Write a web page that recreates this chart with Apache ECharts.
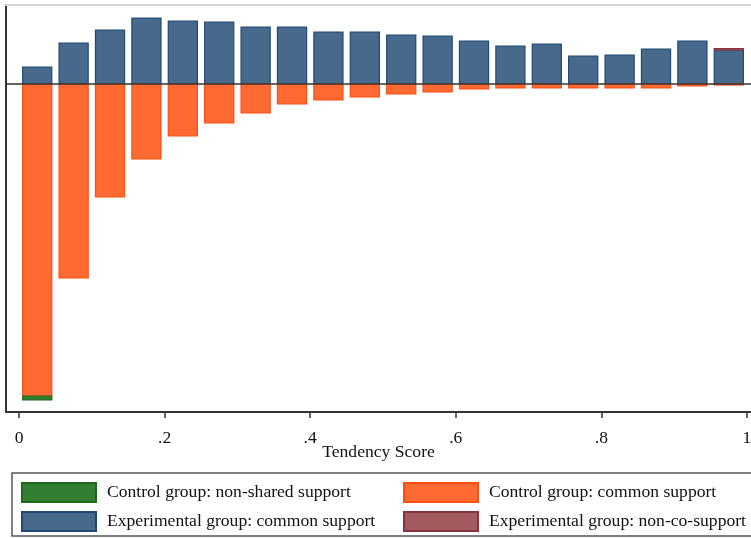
<!DOCTYPE html>
<html>
<head>
<meta charset="utf-8">
<script src="https://cdn.jsdelivr.net/npm/echarts@6/dist/echarts.min.js"></script>
<style>
  html, body { margin: 0; padding: 0; background: #fff; }
  #chart { width: 751px; height: 538px; }
</style>
</head>
<body>
<div id="chart"></div>
<script>
// Propensity ("tendency") score histogram: 20 bins of width 0.05.
const binWidth = 0.05;
const binStarts = [0, 0.05, 0.10, 0.15, 0.20, 0.25, 0.30, 0.35, 0.40, 0.45,
                   0.50, 0.55, 0.60, 0.65, 0.70, 0.75, 0.80, 0.85, 0.90, 0.95];

// Experimental group (drawn upward)
const experimentalCommon = [17, 41, 54, 66, 63, 62, 57, 57, 52, 52,
                            49, 48, 43, 38, 40, 28, 29, 35, 43, 34];
const experimentalOffSupport = [0, 0, 0, 0, 0, 0, 0, 0, 0, 0,
                                0, 0, 0, 0, 0, 0, 0, 0, 0, 1.5];

// Control group (drawn downward)
const controlCommon = [312, 194, 113, 75, 52, 39, 29, 20, 16, 13,
                       10, 8, 5, 4, 4, 4, 4, 4, 2, 1];
const controlOffSupport = [4, 0, 0, 0, 0, 0, 0, 0, 0, 0,
                           0, 0, 0, 0, 0, 0, 0, 0, 0, 0];

const tickValues = [0, 0.2, 0.4, 0.6, 0.8, 1];
const tickLabels = ['0', '.2', '.4', '.6', '.8', '1'];

const legendNames = {
  ctrlOff: 'Control group: non-shared support',
  ctrlCommon: 'Control group: common support',
  expCommon: 'Experimental group: common support',
  expOff: 'Experimental group: non-co-support'
};

const barFill = 0.8; // fraction of the bin covered by a bar

// rows of [binCenter, lowValue, highValue]
function stackRows(base, vals, sign) {
  return binStarts.map((s, i) => {
    const b = base ? base[i] : 0;
    return [s + binWidth / 2, sign * b, sign * (b + vals[i])];
  }).filter(r => r[1] !== r[2]);
}

function renderBar(params, api) {
  const c = api.value(0);
  const half = binWidth * barFill / 2;
  const p0 = api.coord([c - half, api.value(1)]);
  const p1 = api.coord([c + half, api.value(2)]);
  const x = Math.min(p0[0], p1[0]);
  const y = Math.min(p0[1], p1[1]);
  const w = Math.abs(p1[0] - p0[0]);
  const h = Math.max(Math.abs(p1[1] - p0[1]), 1);
  return {
    type: 'rect',
    shape: { x: x, y: y, width: w, height: h },
    style: api.style()
  };
}

function barSeries(name, data, fill, stroke, z) {
  return {
    type: 'custom',
    name: name,
    renderItem: renderBar,
    data: data,
    z: z,
    encode: { x: 0, y: [1, 2] },
    itemStyle: { color: fill, borderColor: stroke, borderWidth: 1.2 },
    animation: false
  };
}

const serif = 'Liberation Serif, Times New Roman, serif';
const fontSize = 17.6;
const legendText = { fontFamily: serif, fontSize: fontSize, color: '#111', padding: [0, 0, 0, 6] };

const chart = echarts.init(document.getElementById('chart'), null, { renderer: 'canvas' });

chart.setOption({
  backgroundColor: '#fff',
  animation: false,
  grid: {
    left: 6, right: 0, top: 5, bottom: 126,
    containLabel: false,
    outerBoundsMode: 'none'
  },
  xAxis: [
    {
      type: 'value',
      position: 'bottom',
      min: -0.0179,
      max: 1.0055,
      name: 'Tendency Score',
      nameLocation: 'middle',
      nameGap: 31,
      nameMoveOverlap: false,
      nameTextStyle: { fontFamily: serif, fontSize: fontSize, color: '#111' },
      axisLine: { show: true, onZero: false, lineStyle: { color: '#333', width: 2 } },
      axisTick: { show: true, length: 6, customValues: tickValues, lineStyle: { color: '#333', width: 1.5 } },
      axisLabel: {
        show: true,
        customValues: tickValues,
        margin: 17,
        fontFamily: serif, fontSize: fontSize, color: '#111',
        formatter: v => {
          const i = tickValues.findIndex(t => Math.abs(t - v) < 1e-9);
          return i >= 0 ? tickLabels[i] : '';
        }
      },
      splitLine: { show: false }
    },
    {
      // plain frame line along the top of the plot
      type: 'value',
      position: 'top',
      min: -0.0179,
      max: 1.0055,
      axisLine: { show: true, onZero: false, lineStyle: { color: '#d4d4d4', width: 2 } },
      axisTick: { show: false },
      axisLabel: { show: false },
      splitLine: { show: false }
    }
  ],
  yAxis: {
    type: 'value',
    min: -328,
    max: 79,
    axisLine: { show: true, onZero: false, lineStyle: { color: '#333', width: 2 } },
    axisTick: { show: false },
    axisLabel: { show: false },
    splitLine: { show: false }
  },
  legend: [
    {
      orient: 'vertical', left: 21, top: 482, padding: 0,
      itemWidth: 74, itemHeight: 19, itemGap: 8,
      icon: 'rect',
      textStyle: legendText,
      data: [legendNames.ctrlOff, legendNames.expCommon],
      selectedMode: false
    },
    {
      orient: 'vertical', left: 403, top: 482, padding: 0,
      itemWidth: 74, itemHeight: 19, itemGap: 8,
      icon: 'rect',
      textStyle: legendText,
      data: [legendNames.ctrlCommon, legendNames.expOff],
      selectedMode: false
    }
  ],
  graphic: [
    {
      type: 'rect',
      shape: { x: 12, y: 473, width: 745, height: 63 },
      style: { fill: 'none', stroke: '#555', lineWidth: 1.5 },
      silent: true
    }
  ],
  series: [
    Object.assign(
      barSeries(legendNames.expCommon, stackRows(null, experimentalCommon, 1), '#476a8c', '#1f4a74', 2),
      {
        markLine: {
          silent: true, symbol: 'none', label: { show: false },
          lineStyle: { color: '#333', width: 1.5, type: 'solid' },
          data: [{ yAxis: 0 }]
        }
      }
    ),
    barSeries(legendNames.expOff, stackRows(experimentalCommon, experimentalOffSupport, 1), '#a35a5f', '#8a3340', 2),
    barSeries(legendNames.ctrlCommon, stackRows(null, controlCommon, -1), '#ff6a33', '#ff4e12', 2),
    barSeries(legendNames.ctrlOff, stackRows(controlCommon, controlOffSupport, -1), '#327f32', '#1d6a1d', 2)
  ]
});
</script>
</body>
</html>
